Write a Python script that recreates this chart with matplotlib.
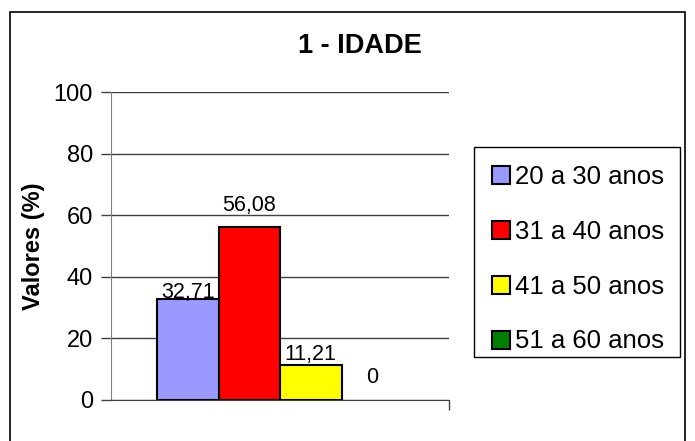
import numpy as np
import matplotlib
matplotlib.use('Agg')
import matplotlib.pyplot as plt
from matplotlib.patches import Rectangle, Patch

plt.rcParams['font.family'] = ['Liberation Sans', 'DejaVu Sans']

categorias = ['20 a 30 anos', '31 a 40 anos', '41 a 50 anos', '51 a 60 anos']
valores = [32.71, 56.08, 11.21, 0]
rotulos = ['32,71', '56,08', '11,21', '0']
cores = ['#9999FF', '#FF0000', '#FFFF00', '#008000']
yticks = [0, 20, 40, 60, 80, 100]

W, H = 695, 441
fig = plt.figure(figsize=(W/100, H/100), dpi=100)
fig.patches.append(Rectangle((10/W, -0.05), 675/W, 1.05 - 12/H, transform=fig.transFigure,
                             fill=False, edgecolor='black', linewidth=1.2))

ax = fig.add_axes([111/W, 1 - 400/H, 338/W, 308/H])

largura = 61.5/338
inicio = -0.5 + 46/338
desloc = [0.4, 5.3, 1.8, 5.5]  # distância do rótulo ao topo da barra, como no original
for i, (v, c) in enumerate(zip(valores, cores)):
    x = inicio + i*largura
    ax.bar(x, v, width=largura, align='edge', color=c, edgecolor='black',
           linewidth=1.5 if v > 0 else 0, label=categorias[i], zorder=3)
    ax.text(x + largura/2, v + desloc[i], rotulos[i], ha='center', va='baseline',
            fontsize=15.5, zorder=4)

ax.set_xlim(-0.5, 0.5)
ax.set_ylim(0, 100)
ax.set_yticks(yticks)
ax.set_yticklabels([str(t) for t in yticks], fontsize=17)
ax.set_xticks([0.5])
ax.set_xticklabels([''])
ax.tick_params(axis='x', length=7, width=1, color='#404040', direction='out')
ax.tick_params(axis='y', length=7, width=1, color='#404040', pad=6)
ax.yaxis.grid(True, color='#404040', linewidth=1, zorder=0)
for s in ['top', 'right']:
    ax.spines[s].set_visible(False)
ax.spines['left'].set_color('#808080')
ax.spines['bottom'].set_color('#404040')
ax.set_ylabel('Valores (%)', fontsize=17, fontweight='bold', labelpad=6)

fig.text(360/W, 1 - 46/H, '1 - IDADE', ha='center', va='center', fontsize=19.5, fontweight='bold')

# legenda: caixa desenhada à parte, marcadores quadrados
fig.patches.append(Rectangle((474/W, 1 - 357/H), 206/W, 210/H, transform=fig.transFigure,
                             facecolor='white', edgecolor='black', linewidth=1, zorder=1))
alcas = [Patch(facecolor=c, edgecolor='black', linewidth=1.5) for c in cores]
leg = fig.legend(alcas, categorias, loc='upper left', bbox_to_anchor=(492/W, 1 - 165/H),
                 fontsize=18.5, frameon=False, handlelength=0.7, handleheight=0.7,
                 handletextpad=0.2, labelspacing=1.2, borderpad=0, borderaxespad=0)

fig.savefig('out.png', dpi=100)
